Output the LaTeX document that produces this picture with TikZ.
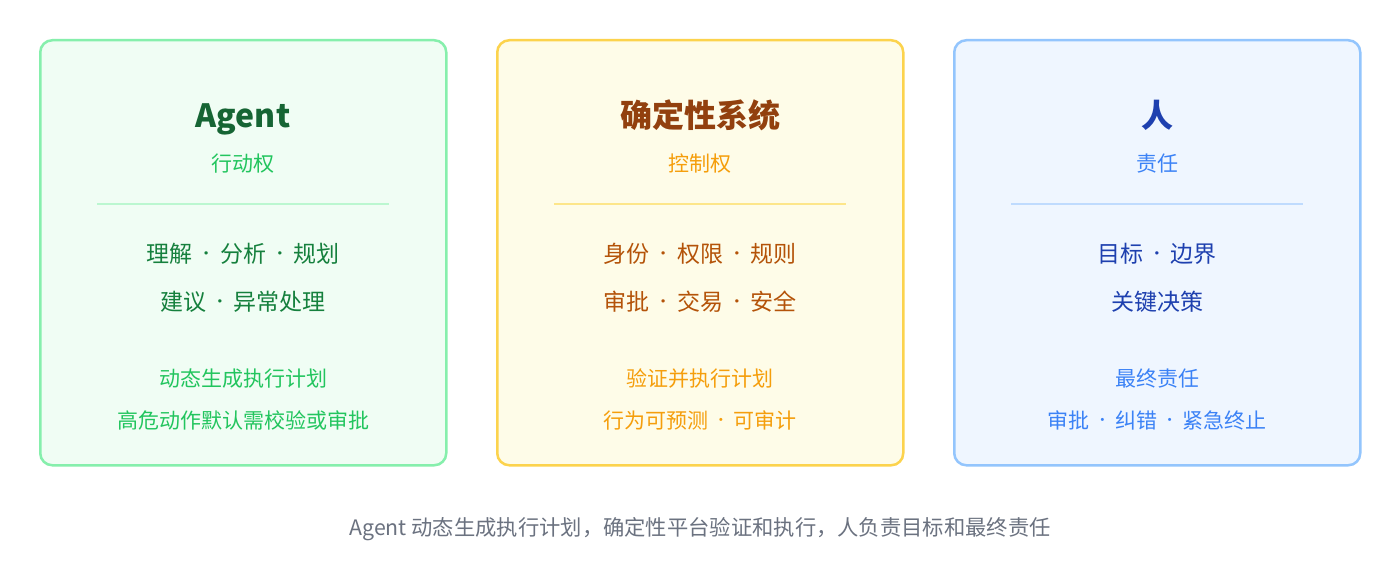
\documentclass[tikz,border=0pt]{standalone}
\usepackage{fontspec}
\setmainfont{Noto Sans CJK SC}
\definecolor{gBorder}{HTML}{86EFAC}
\definecolor{gFill}{HTML}{F0FDF4}
\definecolor{gRule}{HTML}{BBF7D0}
\definecolor{gTitle}{HTML}{166534}
\definecolor{gSub}{HTML}{22C55E}
\definecolor{gMain}{HTML}{15803D}
\definecolor{yBorder}{HTML}{FCD34D}
\definecolor{yFill}{HTML}{FEFCE8}
\definecolor{yRule}{HTML}{FDE68A}
\definecolor{yTitle}{HTML}{92400E}
\definecolor{ySub}{HTML}{F59E0B}
\definecolor{yMain}{HTML}{B45309}
\definecolor{bBorder}{HTML}{93C5FD}
\definecolor{bFill}{HTML}{EFF6FF}
\definecolor{bRule}{HTML}{BFDBFE}
\definecolor{bTitle}{HTML}{1E40AF}
\definecolor{bSub}{HTML}{3B82F6}
\definecolor{bMain}{HTML}{1E40AF}
\definecolor{capGray}{HTML}{6B7280}
\newcommand{\sepdot}{\makebox[1.2em][c]{\raisebox{0.11em}{\scalebox{0.7}{·}}}}
\tikzset{
  panel/.style={rounded corners=12pt, line width=2.5pt},
  divline/.style={line width=1.5pt},
  ttl/.style={anchor=base, inner sep=0pt, font=\fontsize{32}{38}\selectfont\bfseries},
  subt/.style={anchor=base, inner sep=0pt, font=\fontsize{21}{25}\selectfont},
  mainln/.style={anchor=base, inner sep=0pt, font=\fontsize{23}{28}\selectfont},
  lowln/.style={anchor=base, inner sep=0pt, font=\fontsize{21}{25}\selectfont},
  capt/.style={anchor=base, inner sep=0pt, font=\fontsize{21.3}{25}\selectfont, text=capGray}
}
\begin{document}
\begin{tikzpicture}[x=1pt, y=-1pt]
\useasboundingbox[fill=white] (0,0) rectangle (1400,564);
% panels
\draw[panel, draw=gBorder, fill=gFill] (40.25,40.25) rectangle (446.25,465.25);
\draw[panel, draw=yBorder, fill=yFill] (497.25,40.25) rectangle (903.25,465.25);
\draw[panel, draw=bBorder, fill=bFill] (954.25,40.25) rectangle (1360.25,465.25);
% dividers
\draw[divline, gRule] (97,204) -- (389,204);
\draw[divline, yRule] (554,204) -- (846,204);
\draw[divline, bRule] (1011,204) -- (1303,204);
% Agent panel
\node[ttl, text=gTitle] (agentT) at (243,128) {Agent};
\node[subt, text=gSub] (agentS) at (243,171.5) {行动权};
\node[mainln, text=gMain] (agentM1) at (243,262.5) {理解\sepdot 分析\sepdot 规划};
\node[mainln, text=gMain] (agentM2) at (243,310.5) {建议\sepdot 异常处理};
\node[lowln, text=gSub] (agentL1) at (243,386) {动态生成执行计划};
\node[lowln, text=gSub] (agentL2) at (243,428) {高危动作默认需校验或审批};
% deterministic system panel
\node[ttl, text=yTitle] (sysT) at (700,128) {确定性系统};
\node[subt, text=ySub] (sysS) at (700,171.5) {控制权};
\node[mainln, text=yMain] (sysM1) at (700,262.5) {身份\sepdot 权限\sepdot 规则};
\node[mainln, text=yMain] (sysM2) at (700,310.5) {审批\sepdot 交易\sepdot 安全};
\node[lowln, text=ySub] (sysL1) at (700,386) {验证并执行计划};
\node[lowln, text=ySub] (sysL2) at (700,428) {行为可预测\sepdot 可审计};
% human panel
\node[ttl, text=bTitle] (humT) at (1157,128) {人};
\node[subt, text=bSub] (humS) at (1157,171.5) {责任};
\node[mainln, text=bMain] (humM1) at (1157,262.5) {目标\sepdot 边界};
\node[mainln, text=bMain] (humM2) at (1157,310.5) {关键决策};
\node[lowln, text=bSub] (humL1) at (1157,386) {最终责任};
\node[lowln, text=bSub] (humL2) at (1157,428) {审批\sepdot 纠错\sepdot 紧急终止};
% caption
\node[capt] (caption) at (700,535) {Agent 动态生成执行计划，确定性平台验证和执行，人负责目标和最终责任};
\end{tikzpicture}
\end{document}
